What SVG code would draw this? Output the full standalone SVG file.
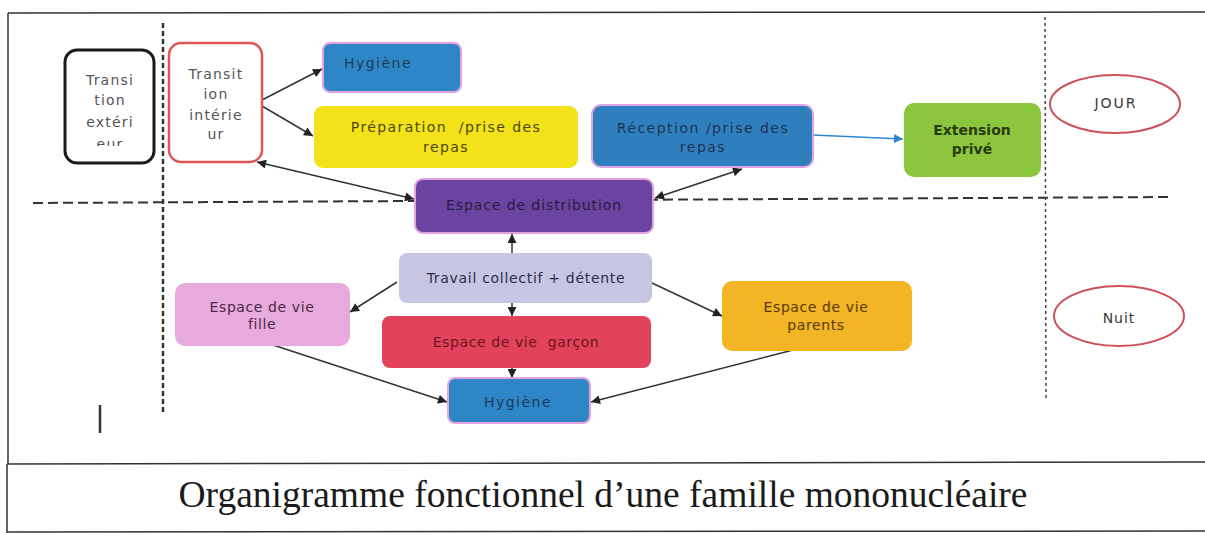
<svg xmlns="http://www.w3.org/2000/svg" width="1205" height="533" viewBox="0 0 1205 533">
  <defs>
    <style>
      .t { font-family: "DejaVu Sans", Verdana, sans-serif; font-size: 14px; text-anchor: middle; }
      .pink { stroke: #e4a2e0; stroke-width: 2; }
      .conn { stroke: #333; stroke-width: 1.5; fill: none; }
      .frame { stroke: #333; stroke-width: 1.5; fill: none; }
    </style>
    <marker id="ah" viewBox="0 0 10 10" refX="10" refY="5" markerWidth="11" markerHeight="9" markerUnits="userSpaceOnUse" orient="auto-start-reverse">
      <path d="M0,0 L10,5 L0,10 Z" fill="#222"/>
    </marker>
    <marker id="ahb" viewBox="0 0 10 10" refX="10" refY="5" markerWidth="11" markerHeight="9" markerUnits="userSpaceOnUse" orient="auto">
      <path d="M0,0 L10,5 L0,10 Z" fill="#2f86d0"/>
    </marker>
    <clipPath id="clipExt">
      <rect x="60" y="45" width="100" height="101"/>
    </clipPath>
  </defs>

  <rect width="1205" height="533" fill="#ffffff"/>

  <!-- frame -->
  <g id="frame">
    <line class="frame" x1="8" y1="13" x2="1205" y2="12"/>
    <line class="frame" x1="8" y1="13" x2="8" y2="464"/>
    <line class="frame" x1="7" y1="464" x2="1205" y2="462"/>
    <line class="frame" x1="7" y1="464" x2="7" y2="533"/>
    <line class="frame" x1="7" y1="532" x2="1205" y2="531"/>
    <line x1="33" y1="203" x2="1170" y2="197" stroke="#333" stroke-width="2" stroke-dasharray="10 5"/>
    <line x1="163" y1="23" x2="163" y2="412" stroke="#333" stroke-width="2.5" stroke-dasharray="5 3"/>
    <line x1="1045" y1="17" x2="1046" y2="400" stroke="#444" stroke-width="1.5" stroke-dasharray="3 3"/>
    <line x1="100" y1="405" x2="100" y2="433" stroke="#333" stroke-width="2.5"/>
  </g>

  <!-- connectors -->
  <g id="connectors">
    <line class="conn" x1="262" y1="100" x2="322" y2="69" marker-end="url(#ah)"/>
    <line class="conn" x1="262" y1="106" x2="313" y2="136" marker-end="url(#ah)"/>
    <line class="conn" x1="257" y1="162" x2="414" y2="199" marker-start="url(#ah)" marker-end="url(#ah)"/>
    <line class="conn" x1="655" y1="198" x2="742" y2="169" marker-start="url(#ah)" marker-end="url(#ah)"/>
    <line x1="813" y1="135" x2="903" y2="139" stroke="#2f86d0" stroke-width="1.3" marker-end="url(#ahb)"/>
    <line class="conn" x1="512" y1="253" x2="512" y2="234" marker-end="url(#ah)"/>
    <line class="conn" x1="512" y1="303" x2="512" y2="316" marker-end="url(#ah)"/>
    <line class="conn" x1="397" y1="282" x2="350" y2="312" marker-end="url(#ah)"/>
    <line class="conn" x1="652" y1="283" x2="722" y2="316" marker-end="url(#ah)"/>
    <line class="conn" x1="512" y1="368" x2="512" y2="378" marker-end="url(#ah)"/>
    <line class="conn" x1="267" y1="343" x2="447" y2="402" marker-end="url(#ah)"/>
    <line class="conn" x1="793" y1="350" x2="591" y2="402" marker-end="url(#ah)"/>
  </g>

  <g id="transition-exterieur">
    <rect x="65" y="50" width="89" height="113" rx="12" fill="#fff" stroke="#1a1a1a" stroke-width="3"/>
    <g class="t" fill="#555" font-size="15" letter-spacing="1.2" clip-path="url(#clipExt)">
      <text x="110" y="85">Transi</text>
      <text x="110" y="105">tion</text>
      <text x="110" y="127">extéri</text>
      <text x="110" y="149">eur</text>
    </g>
  </g>

  <g id="transition-interieur">
    <rect x="169" y="43" width="93" height="119" rx="12" fill="#fff" stroke="#e05555" stroke-width="2.5"/>
    <g class="t" fill="#555" font-size="15" letter-spacing="1.2">
      <text x="216" y="79">Transit</text>
      <text x="216" y="99">ion</text>
      <text x="216" y="120">intérie</text>
      <text x="216" y="139">ur</text>
    </g>
  </g>

  <g id="hygiene-haut">
    <rect class="pink" x="323" y="43" width="138" height="49" rx="7" fill="#2f86c6"/>
    <text class="t" x="378" y="68" fill="#1d3c5c" letter-spacing="1.5">Hygiène</text>
  </g>

  <g id="preparation">
    <rect x="314" y="106" width="264" height="62" rx="9" fill="#f3e21a"/>
    <text class="t" x="446" y="132" fill="#4f4500" font-size="15" letter-spacing="1.4" xml:space="preserve">Préparation  /prise des</text>
    <text class="t" x="446" y="152" fill="#4f4500" font-size="15" letter-spacing="1.4">repas</text>
  </g>

  <g id="reception">
    <rect class="pink" x="592" y="105" width="221" height="62" rx="9" fill="#2f7fbf"/>
    <text class="t" x="703" y="133" fill="#1b3550" font-size="15" letter-spacing="1.5">Réception /prise des</text>
    <text class="t" x="703" y="152" fill="#1b3550" font-size="15" letter-spacing="1.5">repas</text>
  </g>

  <g id="extension">
    <rect x="904" y="103" width="137" height="74" rx="10" fill="#8cc63e"/>
    <text class="t" x="972" y="135" fill="#2a3a10" font-size="15" font-weight="bold">Extension</text>
    <text class="t" x="972" y="154" fill="#2a3a10" font-size="15" font-weight="bold">privé</text>
  </g>

  <g id="jour">
    <ellipse cx="1115" cy="104" rx="65" ry="29" fill="#fff" stroke="#d0505a" stroke-width="2"/>
    <text class="t" x="1116" y="108" fill="#3a3a3a" font-size="20" letter-spacing="2">JOUR</text>
  </g>

  <g id="distribution">
    <rect class="pink" x="415" y="179" width="238" height="54" rx="8" fill="#6a44a0"/>
    <text class="t" x="534" y="210" fill="#2a1a40" letter-spacing="0.9">Espace de distribution</text>
  </g>

  <g id="travail">
    <rect x="399" y="253" width="253" height="50" rx="8" fill="#c6c5e2"/>
    <text class="t" x="526" y="283" fill="#2c2c4c" font-size="14.5" letter-spacing="0.7">Travail collectif + détente</text>
  </g>

  <g id="fille">
    <rect x="175" y="283" width="175" height="63" rx="10" fill="#e8a9dc"/>
    <text class="t" x="262" y="312" fill="#4a2a45" letter-spacing="0.6">Espace de vie</text>
    <text class="t" x="262" y="329" fill="#4a2a45" letter-spacing="0.6">fille</text>
  </g>

  <g id="garcon">
    <rect x="382" y="316" width="269" height="52" rx="8" fill="#e2425a"/>
    <text class="t" x="516" y="347" fill="#6a1520" letter-spacing="0.6" xml:space="preserve">Espace de vie  garçon</text>
  </g>

  <g id="parents">
    <rect x="722" y="281" width="190" height="70" rx="10" fill="#f2b526"/>
    <text class="t" x="816" y="312" fill="#5a3a00" letter-spacing="0.6">Espace de vie</text>
    <text class="t" x="816" y="330" fill="#5a3a00" letter-spacing="0.6">parents</text>
  </g>

  <g id="hygiene-bas">
    <rect class="pink" x="448" y="378" width="142" height="45" rx="7" fill="#2f86c6"/>
    <text class="t" x="518" y="407" fill="#1d3c5c" letter-spacing="1.5">Hygiène</text>
  </g>

  <g id="nuit">
    <ellipse cx="1119" cy="316" rx="65" ry="30" fill="#fff" stroke="#d0505a" stroke-width="2"/>
    <text class="t" x="1119" y="323" fill="#3a3a3a" font-size="20" letter-spacing="1">Nuit</text>
  </g>

  <text x="603" y="507" font-family="'Liberation Serif', 'Times New Roman', serif" font-size="37" text-anchor="middle" fill="#1a1a1a" textLength="849" lengthAdjust="spacingAndGlyphs">Organigramme fonctionnel d’une famille mononucléaire</text>
</svg>
